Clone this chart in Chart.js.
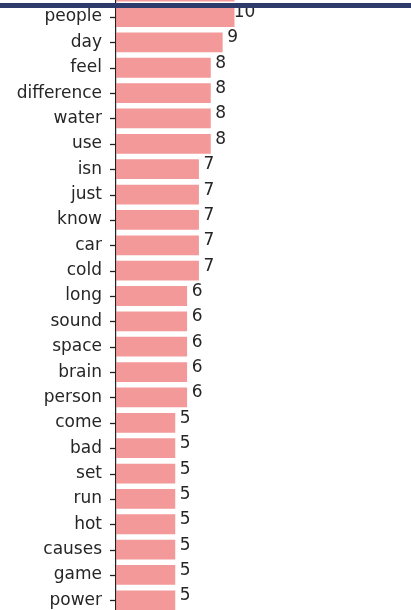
<!doctype html>
<html>
<head>
    <title>Word counts</title>
    <script src="https://cdn.jsdelivr.net/npm/chart.js@4/dist/chart.umd.min.js"></script>
    <style>
    body{
        margin: 0;
        width: 411px;
        height: 610px;
        overflow: hidden;
        position: relative;
        background: #fff;
        font-family: "DejaVu Sans", sans-serif;
    }
    #holder{
        position: absolute;
        left: 0;
        top: -21px;
    }
    #topline{
        position: absolute;
        left: 0;
        top: 3px;
        width: 411px;
        height: 5px;
        background: #2c3a6c;
    }
    </style>
</head>
<body>
    <div id="holder"><canvas id="chart-area" width="411" height="634"></canvas></div>
    <div id="topline"></div>
    <script>
    // first row is cut off at the top of the picture, its label is not visible
    var words = ['', 'people', 'day', 'feel', 'difference', 'water', 'use', 'isn', 'just', 'know',
        'car', 'cold', 'long', 'sound', 'space', 'brain', 'person', 'come', 'bad', 'set',
        'run', 'hot', 'causes', 'game', 'power'];
    var counts = [10, 10, 9, 8, 8, 8, 8, 7, 7, 7,
        7, 7, 6, 6, 6, 6, 6, 5, 5, 5,
        5, 5, 5, 5, 5];

    var textColor = '#262626';

    // numbers past the end of each bar + small tick marks on the category axis
    var valueLabels = {
        id: 'valueLabels',
        afterDatasetsDraw: function(chart) {
            var ctx = chart.ctx;
            var meta = chart.getDatasetMeta(0);
            var yScale = chart.scales.y;
            ctx.save();
            ctx.strokeStyle = '#222';
            ctx.lineWidth = 1.3;
            for (var i = 0; i < words.length; i++) {
                var ty = Math.round(yScale.getPixelForTick(i)) + 0.5;
                ctx.beginPath();
                ctx.moveTo(yScale.right - 6, ty);
                ctx.lineTo(yScale.right, ty);
                ctx.stroke();
            }
            ctx.font = '17px "DejaVu Sans"';
            ctx.fillStyle = textColor;
            ctx.textAlign = 'center';
            ctx.textBaseline = 'alphabetic';
            meta.data.forEach(function(bar, i) {
                ctx.fillText(String(counts[i]), bar.x + 10, bar.y);
            });
            ctx.restore();
        }
    };

    var config = {
        type: 'bar',
        data: {
            labels: words,
            datasets: [{
                data: counts,
                backgroundColor: 'rgba(240,128,128,0.8)',
                borderWidth: 0,
                barPercentage: 0.78,
                categoryPercentage: 1.0
            }]
        },
        options: {
            indexAxis: 'y',
            responsive: false,
            animation: false,
            devicePixelRatio: 1,
            layout: { padding: 0 },
            plugins: {
                legend: { display: false },
                tooltip: { enabled: false }
            },
            scales: {
                x: {
                    display: false,
                    min: 0,
                    max: 24.9
                },
                y: {
                    afterFit: function(scale) {
                        scale.width = 116;
                        scale.paddingTop = 0;
                        scale.paddingBottom = 0;
                    },
                    border: { display: true, color: '#222', width: 1.2 },
                    grid: {
                        display: false,
                        tickLength: 6
                    },
                    ticks: {
                        padding: 8,
                        color: textColor,
                        font: { family: 'DejaVu Sans', size: 17 },
                        autoSkip: false
                    }
                }
            }
        },
        plugins: [valueLabels]
    };

    window.onload = function() {
        var ctx = document.getElementById('chart-area').getContext('2d');
        window.myBar = new Chart(ctx, config);
    };
    </script>
</body>
</html>
